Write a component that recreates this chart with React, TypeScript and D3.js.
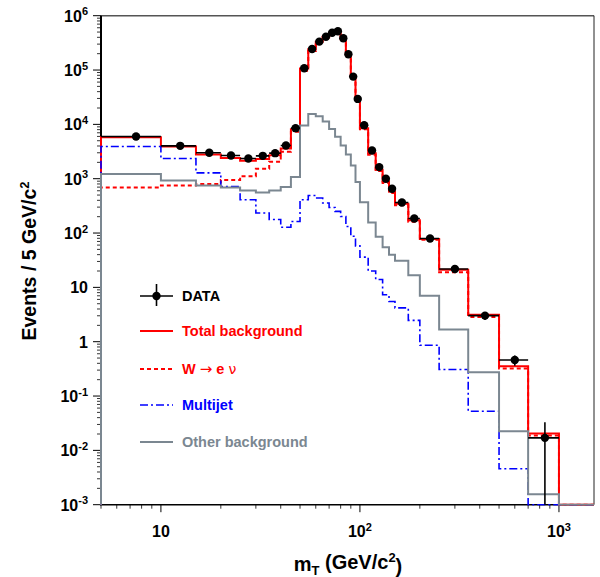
import React from 'react';
import * as d3 from 'd3';

const binEdges = [5, 10, 15, 20, 25, 30, 35, 40, 45, 50, 55, 60, 65, 70, 75, 80, 85, 90, 95, 100, 110, 120, 130, 140, 150, 175, 200, 250, 350, 500, 700, 1000];
const dataCounts = [5970, 4025, 2994, 2673, 2350, 2636, 2951, 4075, 8510, 108000, 244000, 333000, 411000, 487000, 516000, 385000, 195000, 75700, 29400, 9660, 3300, 1634, 995, 652, 365, 185, 79.4, 21.8, 3.02, 0.46, 0.017];
const dataErrors = [0, 0, 0, 0, 0, 0, 0, 0, 0, 0, 0, 0, 0, 0, 0, 0, 0, 0, 0, 0, 0, 0, 0, 0, 0, 0, 0, 1.5, 0.5, 0.1, 0.016];
const totalBkg = [5800, 3900, 2800, 2400, 2150, 2300, 2700, 3600, 8100, 107000, 241000, 333000, 411000, 487000, 508000, 368000, 190000, 73800, 28200, 8500, 2950, 1460, 890, 582, 346, 171, 77.6, 21.2, 3.15, 0.353, 0.0205];
const wenu = [690, 750, 800, 950, 1110, 1520, 2050, 3150, 7300, 97000, 225000, 318000, 399000, 478000, 501000, 363000, 187000, 72000, 27200, 8100, 2770, 1380, 830, 545, 326, 162, 75, 18.9, 2.86, 0.32, 0.0188];
const multijet = [3910, 2350, 1280, 720, 410, 233, 178, 128, 163, 409, 490, 440, 356, 295, 250, 202, 132, 87, 58, 36, 20, 14, 7.3, 5.5, 4.2, 2.47, 0.86, 0.307, 0.0526, 0.0046, 0];
const otherBkg = [1214, 927, 750, 690, 607, 557, 607, 702, 1072, 9500, 15500, 14100, 11250, 8200, 5900, 4100, 2800, 1750, 870, 370, 157, 85, 55, 40, 31, 16.7, 7.0, 1.67, 0.274, 0.0225, 0.00155];

const yTickExponents = [-3, -2, -1, 0, 1, 2, 3, 4, 5, 6];
const xTickExponents = [1, 2, 3];
const legendLabels = ['DATA', 'Total background', 'W \u2192 e \u03bd', 'Multijet', 'Other background'];

const W = 600;
const H = 577;
const left = 101;
const right = 594;
const top = 15.7;
const bottom = 504.7;
const FONT = '"Liberation Sans", Arial, Helvetica, sans-serif';

const RED = '#ff0000';
const BLUE = '#0000ff';
const GRAY = '#7b8791';

export default function App() {
  const x = d3.scaleLog().domain([5, 1500]).range([left, right]);
  const y = d3.scaleLog().domain([1e-3, 1e6]).range([bottom, top]).clamp(true);

  const stepPath = (values: number[]) => {
    const yb = y(1e-3);
    const pts: [number, number][] = [];
    pts.push([x(binEdges[0]), yb]);
    values.forEach((v, i) => {
      const yy = v > 0 ? y(v) : yb;
      pts.push([x(binEdges[i]), yy]);
      pts.push([x(binEdges[i + 1]), yy]);
    });
    pts.push([x(binEdges[binEdges.length - 1]), yb]);
    pts.push([x(1500), yb]);
    return d3.line()(pts) || '';
  };

  const yMinor: number[] = [];
  for (let e = -3; e < 6; e++) {
    for (let m = 2; m <= 9; m++) yMinor.push(m * Math.pow(10, e));
  }
  const xMinor: number[] = [];
  for (let e = 0; e < 4; e++) {
    for (let m = 1; m <= 9; m++) {
      const v = m * Math.pow(10, e);
      if (v >= 5 && v <= 1500 && m !== 1) xMinor.push(v);
    }
  }

  const powLabel = (exp: number) => {
    if (exp === 0) return <>1</>;
    if (exp === 1) return <>10</>;
    return (
      <>
        10<tspan dy="-0.55em" fontSize="11">{exp}</tspan>
      </>
    );
  };

  const legendY = [296, 331, 369, 405, 442];
  const lx0 = 140;
  const lx1 = 173;
  const ltx = 182;
  const legendColors = ['#000', RED, RED, BLUE, GRAY];

  const centers = binEdges.slice(0, -1).map((e, i) => (e + binEdges[i + 1]) / 2);

  return (
    <svg width={W} height={H} style={{ position: 'absolute', left: 0, top: 0, background: '#fff' }} fontFamily={FONT}>
      <defs>
        <clipPath id="plotClip">
          <rect x={left - 2} y={top} width={right - left + 2} height={bottom - top + 1} />
        </clipPath>
      </defs>
      <rect x={0} y={0} width={W} height={H} fill="#fff" />

      {/* frame */}
      <line x1={left} x2={right} y1={top} y2={top} stroke="#555" strokeWidth={1.6} />
      <line x1={right} x2={right} y1={top} y2={bottom} stroke="#222" strokeWidth={1} />
      <line x1={left} x2={left} y1={top} y2={bottom} stroke="#000" strokeWidth={2} />
      <line x1={left - 1} x2={right} y1={bottom} y2={bottom} stroke="#000" strokeWidth={1.6} />

      {/* y ticks */}
      {yTickExponents.map((e) => (
        <line key={'ym' + e} x1={left - 8} x2={left} y1={y(Math.pow(10, e))} y2={y(Math.pow(10, e))} stroke="#000" strokeWidth={1} />
      ))}
      {yMinor.map((v, i) => (
        <line key={'yn' + i} x1={left - 4} x2={left} y1={y(v)} y2={y(v)} stroke="#000" strokeWidth={0.8} />
      ))}
      {yTickExponents.map((e) => (
        <text key={'yl' + e} x={88} y={y(Math.pow(10, e)) + 5.8} textAnchor="end" fontSize={16} fontWeight="bold">
          {powLabel(e)}
        </text>
      ))}

      {/* x ticks */}
      {xTickExponents.map((e) => (
        <line key={'xm' + e} x1={x(Math.pow(10, e))} x2={x(Math.pow(10, e))} y1={bottom} y2={bottom + 7.5} stroke="#000" strokeWidth={1} />
      ))}
      {xMinor.map((v, i) => (
        <line key={'xn' + i} x1={x(v)} x2={x(v)} y1={bottom} y2={bottom + 4} stroke="#000" strokeWidth={0.8} />
      ))}
      {xTickExponents.map((e) => (
        <text key={'xl' + e} x={x(Math.pow(10, e))} y={537} textAnchor="middle" fontSize={16} fontWeight="bold">
          {powLabel(e)}
        </text>
      ))}

      {/* axis titles */}
      <text x={348} y={571} textAnchor="middle" fontSize={20} fontWeight="bold">
        m<tspan dy="0.3em" fontSize={13}>T</tspan>
        <tspan dy="-0.3em"> (GeV/c</tspan>
        <tspan dy="-0.55em" fontSize={13}>2</tspan>
        <tspan dy="0.55em">)</tspan>
      </text>
      <text transform="translate(36,261) rotate(-90)" textAnchor="middle" fontSize={19.5} fontWeight="bold">
        Events / 5 GeV/c<tspan dy="-0.55em" fontSize={13}>2</tspan>
      </text>

      {/* histograms */}
      <g clipPath="url(#plotClip)" fill="none">
        <path d={stepPath(totalBkg)} stroke={RED} strokeWidth={2} />
        <path d={stepPath(wenu)} stroke={RED} strokeWidth={2} strokeDasharray="4,3" />
        <path d={stepPath(multijet)} stroke={BLUE} strokeWidth={1.6} strokeDasharray="8,3,2,3" />
        <path d={stepPath(otherBkg)} stroke={GRAY} strokeWidth={2} />

        {/* data */}
        {dataCounts.map((v, i) => (
          <g key={'d' + i}>
            <line x1={x(binEdges[i])} x2={x(binEdges[i + 1])} y1={y(v)} y2={y(v)} stroke="#000" strokeWidth={1.6} />
            {dataErrors[i] > 0 && (
              <line x1={x(centers[i])} x2={x(centers[i])} y1={y(v + dataErrors[i])} y2={y(Math.max(v - dataErrors[i], 1e-3))} stroke="#000" strokeWidth={1.6} />
            )}
            <circle cx={x(centers[i])} cy={y(v)} r={4.2} fill="#000" />
          </g>
        ))}
      </g>

      {/* legend */}
      <g>
        <line x1={lx0} x2={lx1} y1={legendY[0]} y2={legendY[0]} stroke="#000" strokeWidth={1.6} />
        <line x1={(lx0 + lx1) / 2} x2={(lx0 + lx1) / 2} y1={legendY[0] - 12} y2={legendY[0] + 10} stroke="#000" strokeWidth={1.6} />
        <circle cx={(lx0 + lx1) / 2} cy={legendY[0]} r={4.2} fill="#000" />
        <line x1={lx0} x2={lx1} y1={legendY[1]} y2={legendY[1]} stroke={RED} strokeWidth={2} />
        <line x1={lx0} x2={lx1} y1={legendY[2]} y2={legendY[2]} stroke={RED} strokeWidth={2} strokeDasharray="4,3" />
        <line x1={lx0} x2={lx1} y1={legendY[3]} y2={legendY[3]} stroke={BLUE} strokeWidth={1.6} strokeDasharray="8,3,2,3" />
        <line x1={lx0} x2={lx1} y1={legendY[4]} y2={legendY[4]} stroke={GRAY} strokeWidth={2} />
        {legendLabels.map((t, i) => (
          <text key={'lg' + i} x={ltx} y={legendY[i] + 5} fontSize={14.5} fontWeight="bold" fill={legendColors[i]}>
            {i === 2 ? (
              <>
                W <tspan fontWeight="normal" fontFamily='"DejaVu Sans", sans-serif' fontSize={15}>{'\u2192'}</tspan> e <tspan fontWeight="normal" fontFamily='"DejaVu Sans", sans-serif' fontSize={14}>{'\u03bd'}</tspan>
              </>
            ) : (
              t
            )}
          </text>
        ))}
      </g>
    </svg>
  );
}
